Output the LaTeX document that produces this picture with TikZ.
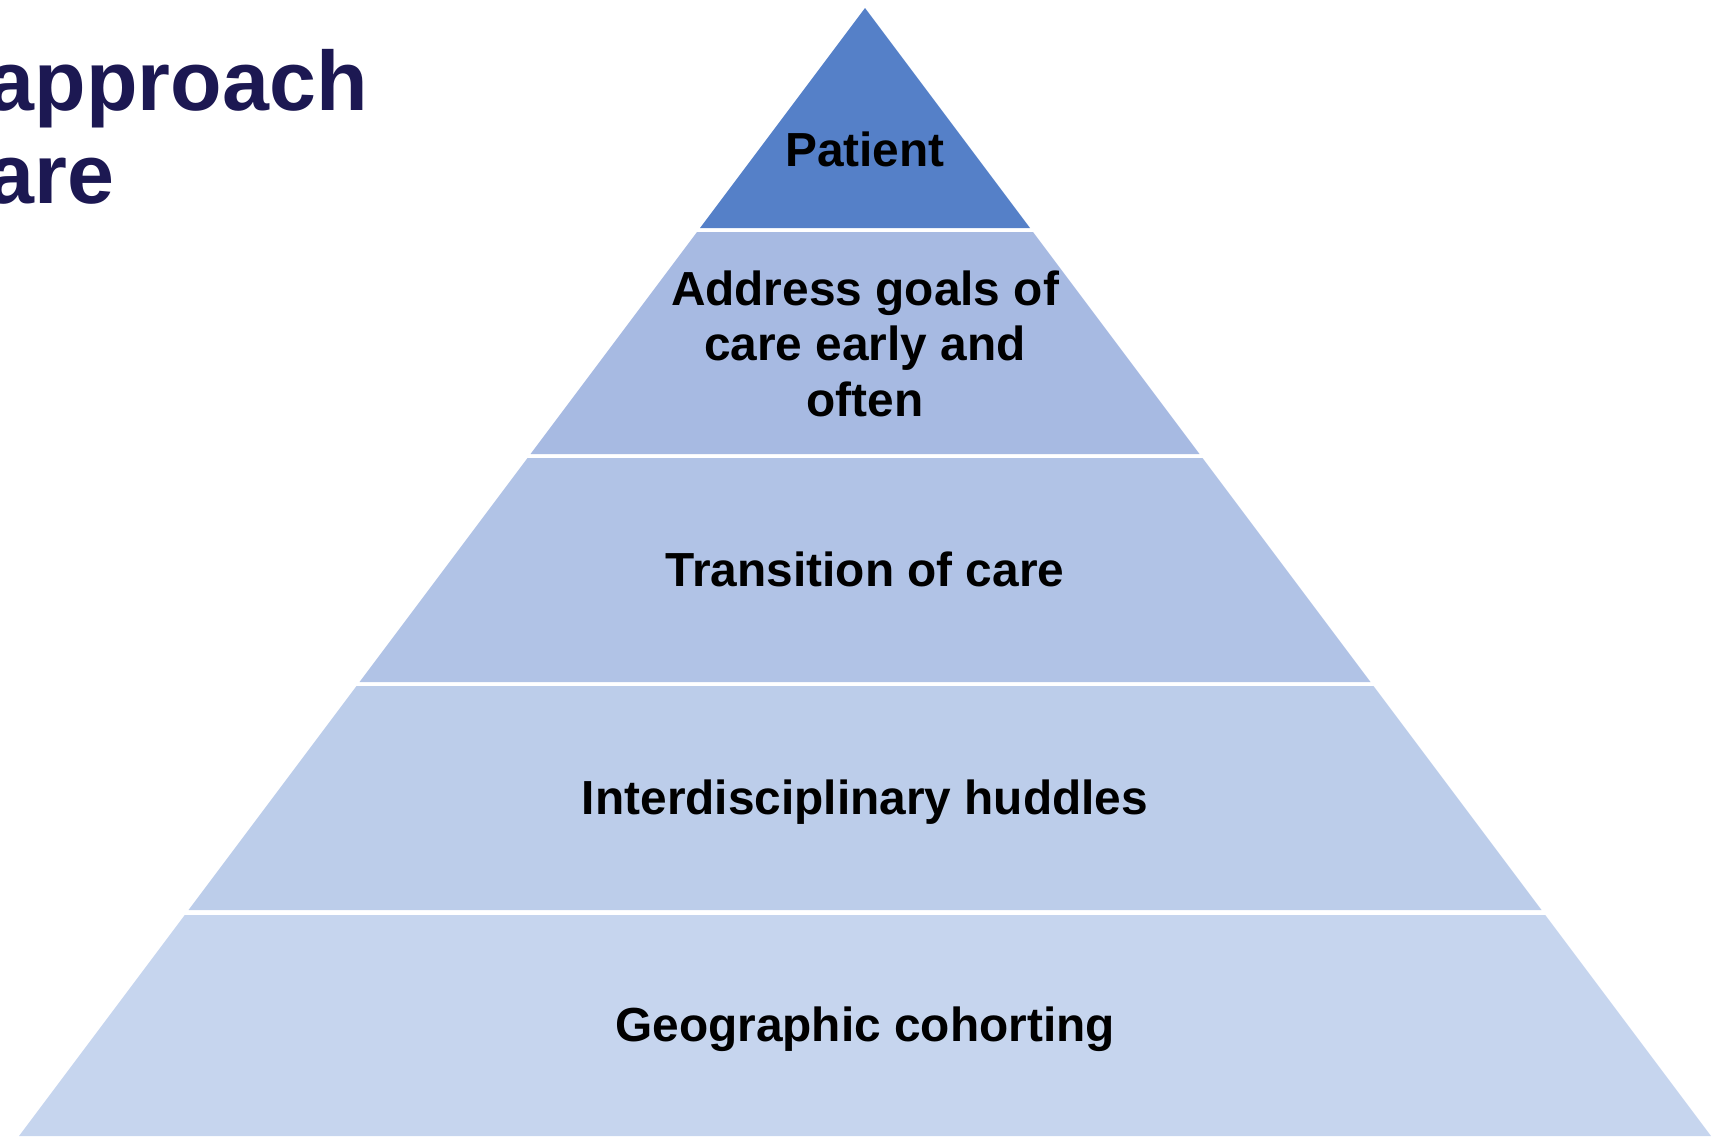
\documentclass[tikz,border=0pt]{standalone}
\usepackage{xcolor}
\usepackage{fontspec}
\setmainfont{Liberation Sans}
\usepackage{tikz}
\usetikzlibrary{positioning, calc}
\definecolor{titlenavy}{RGB}{28, 24, 82}
\definecolor{apexblue}{RGB}{85, 128, 200}
\definecolor{goalsblue}{RGB}{167, 186, 226}
\definecolor{transitionblue}{RGB}{177, 195, 230}
\definecolor{huddleblue}{RGB}{188, 205, 234}
\definecolor{cohortblue}{RGB}{198, 213, 238}

\begin{document}
\begin{tikzpicture}[
    x=0.01cm, y=-0.01cm,
    tier/.style={draw=none},
    tiertext/.style={
        anchor=base,
        align=center,
        inner sep=0pt,
        font=\fontsize{13.6}{15.65}\selectfont\bfseries\color{black}
    },
    titletext/.style={
        anchor=base west,
        inner sep=0pt,
        font=\fontsize{24}{26}\selectfont\bfseries\color{titlenavy}
    }
]
    \useasboundingbox (0, 0) rectangle (1724, 1136);

    % Title (cut at the left edge)
    \node[titletext] (title1) at (-13, 110) {approach};
    \node[titletext] (title2) at (-13, 203) {are};

    % Pyramid tiers
    \fill[tier, apexblue] (865, 8) -- (1030, 228) -- (700, 228) -- cycle;
    \fill[tier, goalsblue] (697, 232) -- (1033, 232) -- (1199.5, 454) -- (530.5, 454) -- cycle;
    \fill[tier, transitionblue] (527.5, 458) -- (1202.5, 458) -- (1370.5, 682) -- (359.5, 682) -- cycle;
    \fill[tier, huddleblue] (356.5, 686) -- (1373.5, 686) -- (1541.5, 910) -- (188.5, 910) -- cycle;
    \fill[tier, cohortblue] (184.75, 915) -- (1545.25, 915) -- (1711, 1136) -- (19, 1136) -- cycle;

    % Labels (base of a multi-line label is its last line)
    \node[tiertext] (patient) at (865, 166) {Patient};
    \node[tiertext] (goals) at (865, 416) {Address goals of\\care early and\\often};
    \node[tiertext] (transition) at (865, 586) {Transition of care};
    \node[tiertext] (huddles) at (865, 814) {Interdisciplinary huddles};
    \node[tiertext] (cohorting) at (865, 1041) {Geographic cohorting};
\end{tikzpicture}
\end{document}
